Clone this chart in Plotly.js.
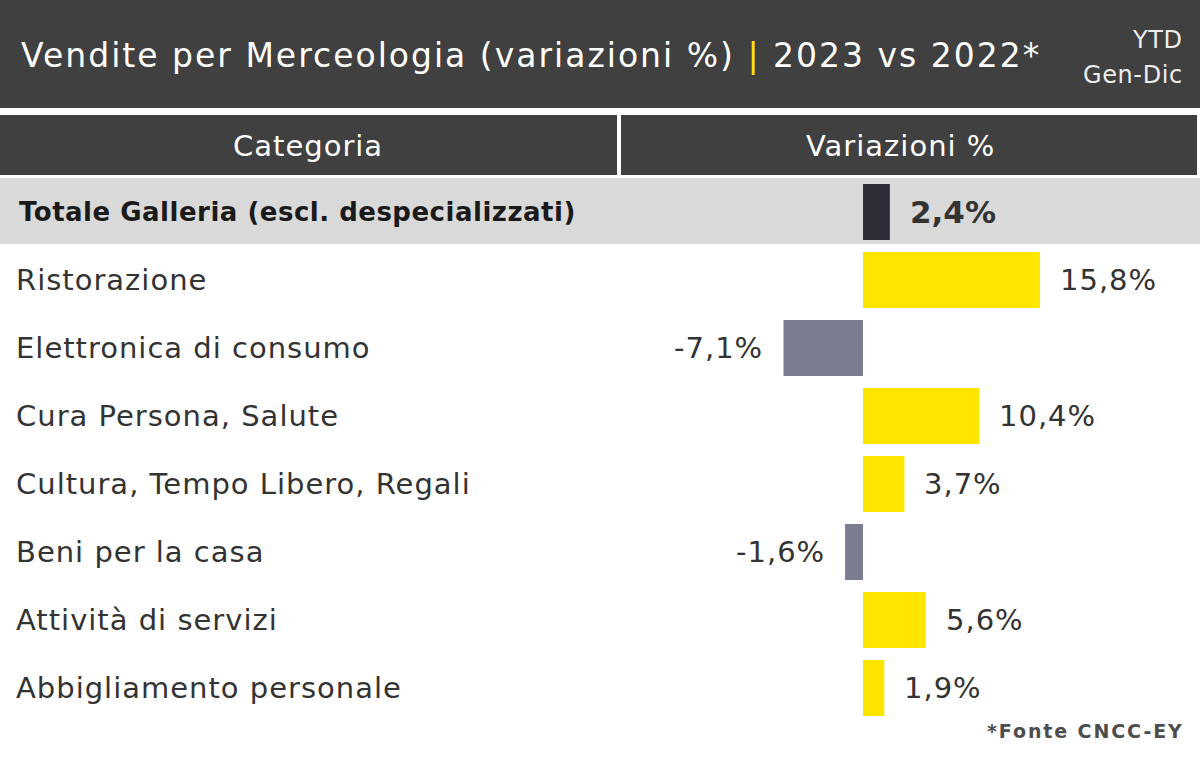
<!DOCTYPE html>
<html>
<head>
<meta charset="utf-8">
<script src="https://cdn.plot.ly/plotly-3.0.1.min.js"></script>
<style>
html,body{margin:0;padding:0;background:#fff;}
#chart{width:1200px;height:763px;}
</style>
</head>
<body>
<div id="chart"></div>
<script>
// ---- data ----
const categories = [
  "Totale Galleria (escl. despecializzati)",
  "Ristorazione",
  "Elettronica di consumo",
  "Cura Persona, Salute",
  "Cultura, Tempo Libero, Regali",
  "Beni per la casa",
  "Attività di servizi",
  "Abbigliamento personale"
];
const values = [2.4, 15.8, -7.1, 10.4, 3.7, -1.6, 5.6, 1.9];
const titleMain = "Vendite per Merceologia (variazioni %)";
const titleYears = "2023 vs 2022*";
const periodLines = ["YTD", "Gen-Dic"];
const headerLabels = ["Categoria", "Variazioni %"];
const sourceNote = "*Fonte CNCC-EY";

// ---- layout geometry ----
const W = 1200, H = 763;
const T = 178, B = 722;           // plot area top/bottom in pixels
const PH = B - T;
const py = p => (B - p) / PH;     // pixel y -> paper y
const px = p => p / W;            // pixel x -> paper x
const FONT = "DejaVu Sans, Verdana, sans-serif";
const sp = (t, ls) => '<span style="letter-spacing:' + ls + 'px">' + t + '</span>';

const YELLOW = "#FFE600", NEG = "#7b7b91", DARK = "#2e2e38";
const barColors = values.map((v, i) => i === 0 ? DARK : (v >= 0 ? YELLOW : NEG));
const labels = values.map(v => v.toFixed(1).replace(".", ",") + "%");

const trace = {
  type: "bar",
  orientation: "h",
  x: values,
  y: categories,
  width: 0.82,
  marker: {color: barColors, line: {width: 0}},
  hoverinfo: "none"
};

const shapes = [
  // title bar
  {type: "rect", xref: "paper", yref: "paper", x0: 0, x1: 1, y0: py(108), y1: py(0),
   fillcolor: "#404040", line: {width: 0}, layer: "below"},
  // header row cells
  {type: "rect", xref: "paper", yref: "paper", x0: 0, x1: px(617), y0: py(175), y1: py(115),
   fillcolor: "#404040", line: {width: 0}, layer: "below"},
  {type: "rect", xref: "paper", yref: "paper", x0: px(621), x1: px(1197), y0: py(175), y1: py(115),
   fillcolor: "#404040", line: {width: 0}, layer: "below"},
  // highlighted total row
  {type: "rect", xref: "paper", yref: "y", x0: 0, x1: 1, y0: -0.5, y1: 0.47,
   fillcolor: "#d9d9d9", line: {width: 0}, layer: "below"}
];

const annotations = [];
// title
annotations.push({
  xref: "paper", yref: "paper", x: px(19), y: py(56), xanchor: "left", yanchor: "middle",
  text: sp(titleMain + ' <span style="color:' + YELLOW + '">|</span> ' + titleYears, 2),
  showarrow: false, font: {family: FONT, size: 33, color: "#ffffff"}
});
periodLines.forEach((t, i) => annotations.push({
  xref: "paper", yref: "paper", x: px(1185), y: py(40 + i * 35), xanchor: "right", yanchor: "middle",
  text: sp(t, 0.6), showarrow: false, font: {family: FONT, size: 24, color: "#eeeeee"}
}));
// header labels
[[308, headerLabels[0]], [900, headerLabels[1]]].forEach(([cx, t]) => annotations.push({
  xref: "paper", yref: "paper", x: px(cx), y: py(146), xanchor: "center", yanchor: "middle",
  text: sp(t, 1), showarrow: false, font: {family: FONT, size: 29, color: "#ffffff"}
}));
// category labels
categories.forEach((c, i) => annotations.push({
  xref: "paper", yref: "y", x: px(i === 0 ? 17 : 14), y: c, xanchor: "left", yanchor: "middle",
  text: i === 0 ? "<b>" + sp(c, 0.5) + "</b>" : sp(c, 1), showarrow: false,
  font: {family: FONT, size: i === 0 ? 26 : 29, color: i === 0 ? "#1a1a1a" : "#333333"}
}));
// value labels
values.forEach((v, i) => annotations.push({
  xref: "x", yref: "y", x: v, y: categories[i],
  xanchor: v >= 0 ? "left" : "right", yanchor: "middle", xshift: v >= 0 ? 18 : -18,
  text: i === 0 ? "<b>" + labels[i] + "</b>" : sp(labels[i], 1), showarrow: false,
  font: {family: FONT, size: i === 0 ? 31 : 29, color: "#333333"}
}));
// source
annotations.push({
  xref: "paper", yref: "paper", x: px(1186), y: py(731), xanchor: "right", yanchor: "middle",
  text: "<b>" + sp(sourceNote, 1.9) + "</b>", showarrow: false, font: {family: FONT, size: 19, color: "#4d4d4d"}
});

const zeroPx = 863, pxPerUnit = 11.2;
const layout = {
  width: W, height: H,
  margin: {l: 0, r: 0, t: T, b: H - B, pad: 0},
  paper_bgcolor: "#ffffff", plot_bgcolor: "rgba(0,0,0,0)",
  showlegend: false,
  xaxis: {range: [-zeroPx / pxPerUnit, (W - zeroPx) / pxPerUnit], showgrid: false, zeroline: false,
          showticklabels: false, ticks: "", fixedrange: true},
  yaxis: {autorange: "reversed", showgrid: false, zeroline: false, showticklabels: false,
          ticks: "", fixedrange: true},
  shapes: shapes,
  annotations: annotations
};

Plotly.newPlot("chart", [trace], layout, {displayModeBar: false, staticPlot: true});
</script>
</body>
</html>
